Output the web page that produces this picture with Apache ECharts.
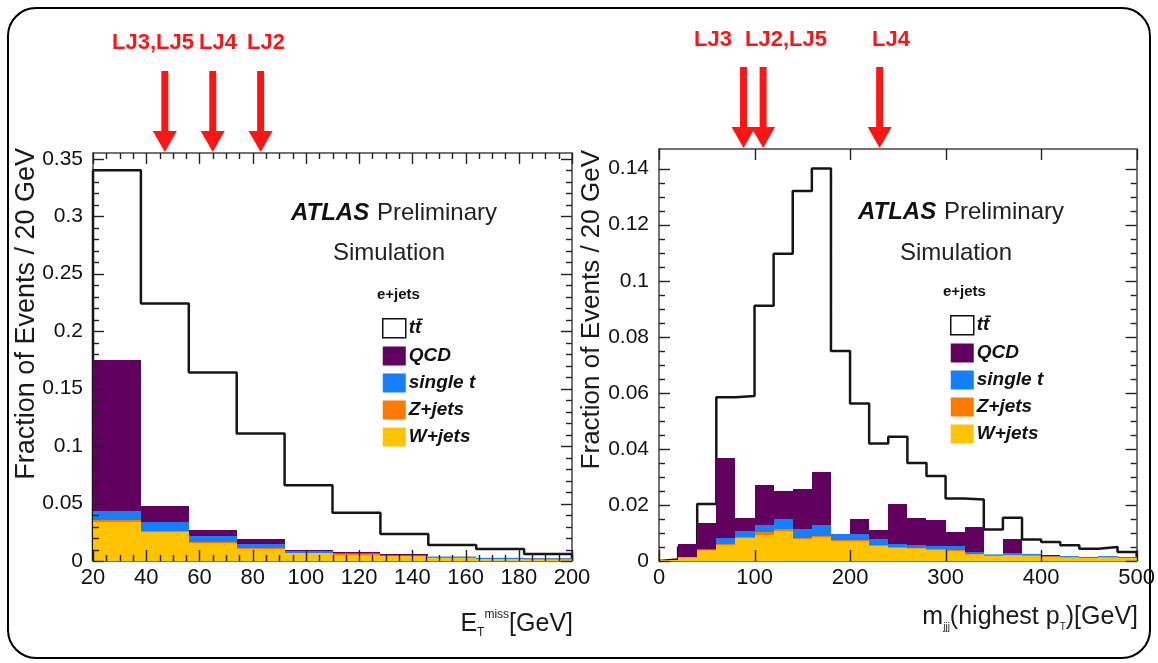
<!DOCTYPE html>
<html>
<head>
<meta charset="utf-8">
<script src="https://cdn.jsdelivr.net/npm/echarts@6/dist/echarts.min.js"></script>
<style>
  html, body { margin: 0; padding: 0; background: #fff; }
  #chart { width: 1158px; height: 663px; }
</style>
</head>
<body>
<div id="chart"></div>
<script>
// ---- left plot: missing ET, 18 GeV bins from 20 to 200
const metEdges = [20, 38, 56, 74, 92, 110, 128, 146, 164, 182, 200];
const metTT     = [0.340, 0.224, 0.164, 0.111, 0.066, 0.042, 0.0235, 0.014, 0.0105, 0.006];
const metWjets  = [0.034, 0.025, 0.016, 0.0105, 0.007, 0.0055, 0.0045, 0.003, 0.002, 0.0015];
const metZjets  = [0.0018, 0.0012, 0.0006, 0.0005, 0.0003, 0.0002, 0.0002, 0.0001, 0.0001, 0.0001];
const metSingle = [0.008, 0.0078, 0.005, 0.0038, 0.0017, 0.0013, 0.0008, 0.0005, 0.0003, 0.0002];
const metQCD    = [0.131, 0.014, 0.0053, 0.0042, 0.0002, 0.0001, 0.0002, 0, 0, 0];
const metArrows = [47, 65, 83];

// ---- right plot: m_jjj, 20 GeV bins from 0 to 500
const mjjjEdges = [0, 20, 40, 60, 80, 100, 120, 140, 160, 180, 200, 220, 240, 260, 280, 300,
                   320, 340, 360, 380, 400, 420, 440, 460, 480, 500];
const mjjjTT     = [0.0005, 0.005, 0.0203, 0.0584, 0.0589, 0.0911, 0.1096, 0.132, 0.140, 0.0749,
                    0.0562, 0.0419, 0.0443, 0.035, 0.0303, 0.0223, 0.0219, 0.0112, 0.0154, 0.0077,
                    0.0068, 0.0056, 0.0044, 0.005, 0.0032];
const mjjjWjets  = [0.0004, 0.0013, 0.0038, 0.0058, 0.0082, 0.0094, 0.0108, 0.0078, 0.0084, 0.007,
                    0.0072, 0.0055, 0.0047, 0.0045, 0.0041, 0.0037, 0.0024, 0.0018, 0.0021, 0.0018,
                    0.0016, 0.0013, 0.0011, 0.0013, 0.0011];
const mjjjZjets  = [0, 0.0001, 0.0002, 0.0004, 0.0004, 0.0008, 0.0006, 0.0005, 0.0005, 0.0005,
                    0.0004, 0.0003, 0.0003, 0.0003, 0.0003, 0.0003, 0.0002, 0.0002, 0.0002, 0.0002,
                    0.0001, 0.0001, 0.0001, 0.0001, 0.0001];
const mjjjSingle = [0, 0.0002, 0.0004, 0.002, 0.002, 0.0025, 0.0035, 0.003, 0.0038, 0.0023,
                    0.0022, 0.0022, 0.001, 0.0008, 0.001, 0.0014, 0.0006, 0.0003, 0.0006, 0.0004,
                    0.0002, 0.0002, 0.0001, 0.0002, 0.0001];
const mjjjQCD    = [0, 0.0046, 0.009, 0.0286, 0.0048, 0.0143, 0.0101, 0.0143, 0.0189, 0,
                    0.0051, 0.003, 0.0143, 0.0098, 0.0094, 0.005, 0.009, 0, 0.0051, 0,
                    0.0003, 0, 0, 0, 0];
const mjjjArrows = [88.5, 109, 231];

const ttName = 'tt\u0304';
const names = ['W+jets', 'Z+jets', 'single t', 'QCD'];
const colors = ['#ffc400', '#ff7a00', '#1480ff', '#62005f'];
const FONT = "'Liberation Sans', Arial, Helvetica, sans-serif";
const RED = '#ff1414';
const TICK = '#222';

const chart = echarts.init(document.getElementById('chart'));

// stacked boxes for one plot: each layer sits on the sum of the ones below
function stackSeries(edges, layers, gi) {
  const base = new Array(edges.length - 1).fill(0);
  return layers.map((vals, k) => {
    const data = vals.map((v, i) => {
      const row = [edges[i], edges[i + 1], base[i], base[i] + v];
      base[i] += v;
      return row;
    });
    const color = colors[k];
    return {
      type: 'custom',
      name: names[k],
      xAxisIndex: gi * 2,
      yAxisIndex: gi * 2,
      z: 3,
      silent: true,
      itemStyle: { color: color },
      encode: { x: [0, 1], y: [2, 3] },
      data: data,
      renderItem: function (params, api) {
        if (api.value(3) - api.value(2) <= 0) return;
        const a = api.coord([api.value(0), api.value(3)]);
        const b = api.coord([api.value(1), api.value(2)]);
        const x0 = Math.round(a[0]), x1 = Math.round(b[0]);
        const y0 = Math.round(a[1]), y1 = Math.round(b[1]);
        if (y1 - y0 < 1) {
          return { type: 'rect', shape: { x: x0, y: b[1] - 1, width: x1 - x0, height: 1 }, style: { fill: color } };
        }
        return { type: 'rect', shape: { x: x0, y: y0, width: x1 - x0, height: y1 - y0 }, style: { fill: color } };
      }
    };
  });
}

// step outline for ttbar
function ttSeries(edges, vals, gi) {
  const pts = [[edges[0], 0]];
  vals.forEach((v, i) => pts.push([edges[i], v]));
  pts.push([edges[edges.length - 1], vals[vals.length - 1]]);
  pts.push([edges[edges.length - 1], 0]);
  return {
    type: 'line',
    name: ttName,
    xAxisIndex: gi * 2,
    yAxisIndex: gi * 2,
    step: 'end',
    symbol: 'none',
    silent: true,
    z: 2,
    lineStyle: { color: '#151515', width: 2.5 },
    data: pts
  };
}

function arrowSeries(xs, gi) {
  return {
    type: 'custom',
    xAxisIndex: gi * 2,
    yAxisIndex: gi * 2,
    clip: false,
    silent: true,
    z: 10,
    data: xs.map(v => [v, 0]),
    renderItem: function (params, api) {
      const x = api.coord([api.value(0), 0])[0];
      const top = params.coordSys.y;
      return {
        type: 'group',
        children: [
          { type: 'rect', shape: { x: x - 3.5, y: top - 82, width: 7, height: 62 }, style: { fill: RED } },
          { type: 'polygon', shape: { points: [[x - 12, top - 22], [x + 12, top - 22], [x, top - 1]] }, style: { fill: RED } }
        ]
      };
    }
  };
}

// tick positions: step between majors, sub = minor divisions per major
function tickList(min, max, step, sub) {
  const n = Math.round((max - min) / step) * sub;
  const out = [];
  for (let i = 0; i <= n; i++) out.push({ v: min + i * step / sub, major: i % sub === 0 });
  return out;
}

// inward ticks on all four sides of a frame; rows are [x, y, major, isY]
function tickSeries(gi, xTicks, yTicks, xMin, yMin) {
  const data = xTicks.map(t => [t.v, yMin, t.major ? 1 : 0, 0])
    .concat(yTicks.map(t => [xMin, t.v, t.major ? 1 : 0, 1]));
  return {
    type: 'custom',
    xAxisIndex: gi * 2,
    yAxisIndex: gi * 2,
    clip: false,
    silent: true,
    z: 5,
    encode: { x: 0, y: 1 },
    data: data,
    renderItem: function (params, api) {
      const cs = params.coordSys;
      const len = api.value(2) ? 11 : 6;
      const p = api.coord([api.value(0), api.value(1)]);
      const line = (x1, y1, x2, y2) => ({
        type: 'line', shape: { x1: x1, y1: y1, x2: x2, y2: y2 },
        style: { stroke: TICK, lineWidth: 1.4 }
      });
      if (!api.value(3)) {
        const x = Math.round(p[0]) + 0.5;
        const bot = cs.y + cs.height;
        return { type: 'group', children: [line(x, bot, x, bot - len), line(x, cs.y, x, cs.y + len)] };
      }
      const y = Math.round(p[1]) + 0.5;
      const right = cs.x + cs.width;
      return { type: 'group', children: [line(cs.x, y, cs.x + len, y), line(right, y, right - len, y)] };
    }
  };
}

function frameAxis(gi, min, max, interval, position, label) {
  return {
    gridIndex: gi, type: 'value', min: min, max: max, interval: interval, position: position,
    splitLine: { show: false },
    axisLine: { show: true, onZero: false, lineStyle: { color: '#444', width: 1.5 } },
    axisTick: { show: false },
    minorTick: { show: false },
    axisLabel: label || { show: false }
  };
}

function xAxes(gi, min, max, interval) {
  return [
    frameAxis(gi, min, max, interval, 'bottom',
      { fontSize: 22, color: '#111', fontFamily: FONT, margin: 6, showMaxLabel: true }),
    frameAxis(gi, min, max, interval, 'top')
  ];
}

function yAxes(gi, max, interval) {
  return [
    frameAxis(gi, 0, max, interval, 'left',
      { fontSize: 21, color: '#111', fontFamily: FONT, margin: 10, showMaxLabel: false }),
    frameAxis(gi, 0, max, interval, 'right')
  ];
}

function legendAt(left, top) {
  return {
    left: left, top: top, orient: 'vertical',
    itemWidth: 23, itemHeight: 19, itemGap: 8, icon: 'rect',
    selectedMode: false,
    textStyle: { fontSize: 19, fontWeight: 'bold', fontStyle: 'italic', color: '#111', fontFamily: FONT, padding: [0, 0, 0, -2] },
    data: [
      { name: ttName, itemStyle: { color: '#fff', borderColor: '#111', borderWidth: 1.5 } },
      'QCD', 'single t', 'Z+jets', 'W+jets'
    ]
  };
}

function txt(x, y, text, size, extra) {
  return {
    type: 'text', x: x, y: y, silent: true,
    style: Object.assign({ text: text, font: size + 'px ' + FONT, fill: '#1a1a1a', align: 'left', verticalAlign: 'middle' }, extra || {})
  };
}

const graphics = [
  { type: 'rect', shape: { x: 8, y: 8, width: 1142, height: 650, r: 28 }, style: { fill: 'none', stroke: '#000', lineWidth: 2 }, silent: true },
  // y titles
  { type: 'text', x: 27, y: 148, rotation: Math.PI / 2, silent: true,
    style: { text: 'Fraction of Events / 20 GeV', font: '27px ' + FONT, fill: '#1a1a1a', align: 'right', verticalAlign: 'middle' } },
  { type: 'text', x: 592, y: 150, rotation: Math.PI / 2, silent: true,
    style: { text: 'Fraction of Events / 20 GeV', font: '26px ' + FONT, fill: '#1a1a1a', align: 'right', verticalAlign: 'middle' } },
  // x titles
  { type: 'text', x: 573, y: 624, silent: true,
    style: { text: 'E{s|T}{p|miss}[GeV]', font: '25px ' + FONT, fill: '#1a1a1a', align: 'right', verticalAlign: 'middle', lineHeight: 30,
      rich: { s: { fontSize: 12, verticalAlign: 'bottom', fontFamily: FONT, fill: '#1a1a1a' },
              p: { fontSize: 12, verticalAlign: 'top', fontFamily: FONT, fill: '#1a1a1a' } } } },
  { type: 'text', x: 1138, y: 617, silent: true,
    style: { text: 'm{s|jjj}(highest p{s|T})[GeV]', font: '25px ' + FONT, fill: '#1a1a1a', align: 'right', verticalAlign: 'middle', lineHeight: 30,
      rich: { s: { fontSize: 10, verticalAlign: 'bottom', fontFamily: FONT, fill: '#1a1a1a' } } } },
  // ATLAS labels
  txt(291, 213, 'ATLAS', 24, { font: 'italic bold 24px ' + FONT, fill: '#111' }),
  txt(377, 213, 'Preliminary', 24, { fill: '#222' }),
  txt(333, 253, 'Simulation', 24, { fill: '#222' }),
  txt(858, 212, 'ATLAS', 24, { font: 'italic bold 24px ' + FONT, fill: '#111' }),
  txt(944, 212, 'Preliminary', 24, { fill: '#222' }),
  txt(900, 253, 'Simulation', 24, { fill: '#222' }),
  txt(377, 295, 'e+jets', 15, { font: 'bold 15px ' + FONT, fill: '#111' }),
  txt(943, 292, 'e+jets', 15, { font: 'bold 15px ' + FONT, fill: '#111' }),
  // arrow labels
  txt(153, 43, 'LJ3,LJ5', 22, { font: 'bold 22px ' + FONT, fill: RED, align: 'center' }),
  txt(218, 43, 'LJ4', 22, { font: 'bold 22px ' + FONT, fill: RED, align: 'center' }),
  txt(266, 43, 'LJ2', 22, { font: 'bold 22px ' + FONT, fill: RED, align: 'center' }),
  txt(713, 40, 'LJ3', 22, { font: 'bold 22px ' + FONT, fill: RED, align: 'center' }),
  txt(786, 40, 'LJ2,LJ5', 22, { font: 'bold 22px ' + FONT, fill: RED, align: 'center' }),
  txt(891, 40, 'LJ4', 22, { font: 'bold 22px ' + FONT, fill: RED, align: 'center' })
];

const option = {
  animation: false,
  grid: [
    { left: 93, top: 153, width: 479, height: 408 },
    { left: 659, top: 149, width: 481, height: 412 }
  ],
  xAxis: [].concat(xAxes(0, 20, 200, 20), xAxes(1, 0, 500, 100)),
  yAxis: [].concat(yAxes(0, 0.355, 0.05), yAxes(1, 0.147, 0.02)),
  legend: [legendAt(377, 313), legendAt(945, 310)],
  graphic: graphics,
  series: [].concat(
    [ttSeries(metEdges, metTT, 0)],
    stackSeries(metEdges, [metWjets, metZjets, metSingle, metQCD], 0),
    [tickSeries(0, tickList(20, 200, 20, 4), tickList(0, 0.35, 0.05, 5), 20, 0)],
    [arrowSeries(metArrows, 0)],
    [ttSeries(mjjjEdges, mjjjTT, 1)],
    stackSeries(mjjjEdges, [mjjjWjets, mjjjZjets, mjjjSingle, mjjjQCD], 1),
    [tickSeries(1, tickList(0, 500, 100, 1), tickList(0, 0.14, 0.02, 4), 0, 0)],
    [arrowSeries(mjjjArrows, 1)]
  )
};

chart.setOption(option);
window.addEventListener('resize', () => chart.resize());
</script>
</body>
</html>
